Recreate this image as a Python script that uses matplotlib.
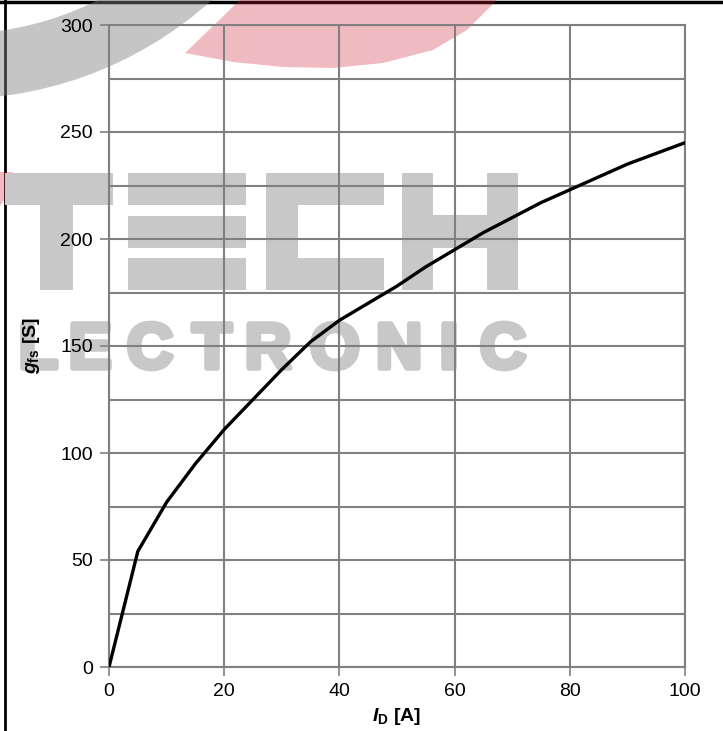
import numpy as np
import matplotlib
matplotlib.use("Agg")
from matplotlib import pyplot as plt
from matplotlib import patheffects
from matplotlib.ticker import MultipleLocator
from matplotlib.patches import Rectangle, Polygon, Wedge

# gfs vs ID curve
id_a = [0, 5, 10, 15, 20, 25, 30, 35, 40, 45, 50, 55, 60, 65, 70, 75, 80, 85, 90, 95, 100]
gfs_s = [0, 54, 77, 95, 111, 125, 139, 152, 162, 170, 178, 187, 195, 203, 210, 217, 223, 229, 235, 240, 245]

x_ticks = [0, 20, 40, 60, 80, 100]
y_ticks = [0, 50, 100, 150, 200, 250, 300]

plt.rcParams['font.family'] = ['Liberation Sans', 'DejaVu Sans']
plt.rcParams['mathtext.fontset'] = 'custom'
plt.rcParams['mathtext.it'] = 'Liberation Sans:italic:bold'
plt.rcParams['mathtext.rm'] = 'Liberation Sans:bold'
plt.rcParams['mathtext.bf'] = 'Liberation Sans:bold'

W, H = 723, 731
fig = plt.figure(figsize=(W / 100, H / 100), dpi=100)

# background layer in pixel coords (y down) for frame + watermark
bg = fig.add_axes([0, 0, 1, 1], zorder=0)
bg.set_xlim(0, W)
bg.set_ylim(H, 0)
bg.axis('off')

wm_gray = '#c8c8c8'
red = (0.80, 0.12, 0.20, 0.30)

# frame lines top / left
bg.plot([0, W], [1.5, 1.5], color='black', lw=2.5, zorder=1)
bg.plot([4.5, 4.5], [0, H], color='black', lw=2, zorder=1)

# logo arcs
bg.add_patch(Wedge((-45, -284), 383, 0, 180, width=65, color=(0.5, 0.5, 0.5, 0.45), lw=0, zorder=2))
red_pts = [(185, 53), (233, 62), (283, 67), (333, 68), (383, 63), (433, 50),
           (467, 30), (497, 0), (240, 0)]
bg.add_patch(Polygon(red_pts, closed=True, color=red, lw=0, zorder=2))
bg.add_patch(Polygon([(0, 172), (13, 172), (4, 200), (0, 206)], closed=True, color=red, lw=0, zorder=2))

# "TECH" block letters
def block(x0, y0, x1, y1):
    bg.add_patch(Rectangle((x0, y0), x1 - x0, y1 - y0, color=wm_gray, lw=0, zorder=2))

block(5, 173, 113, 205)      # T
block(40, 173, 73, 290)
block(128, 173, 246, 205)    # E
block(128, 216, 246, 248)
block(128, 258, 246, 290)
block(266, 173, 384, 205)    # C
block(266, 173, 298, 290)
block(266, 258, 384, 290)
block(402, 173, 433, 290)    # H
block(487, 173, 518, 290)
block(433, 215, 487, 248)

thick = [patheffects.withStroke(linewidth=4, foreground=wm_gray)]
for ch, cx in zip("LECTRONIC", [38, 90, 150, 212, 268, 335, 399, 449, 503]):
    bg.text(cx, 351, ch, fontsize=46, fontweight='bold', color=wm_gray,
            ha='center', va='center', zorder=2, path_effects=thick)

# main chart
ax = fig.add_axes([109 / W, 1 - 667 / H, 576 / W, 642 / H], zorder=1)
ax.set_facecolor('none')
ax.plot(id_a, gfs_s, color='black', lw=2.4, zorder=5)

ax.set_xlim(0, 100)
ax.set_ylim(0, 300)
ax.set_xticks(x_ticks)
ax.set_yticks(y_ticks)
ax.yaxis.set_minor_locator(MultipleLocator(25))
ax.grid(which='both', color='#808080', lw=1.5)
ax.tick_params(which='major', length=6.5, width=1.2, color='#808080', labelsize=14)
ax.tick_params(axis='y', pad=5)
ax.tick_params(axis='x', pad=5)
ax.tick_params(which='minor', length=0)
for s in ax.spines.values():
    s.set_color('#808080')
    s.set_linewidth(1.5)

ax.set_xlabel(r'$\mathit{I}_\mathrm{D}$ [A]', fontsize=14, fontweight='bold', labelpad=4)
ax.set_ylabel(r'$\mathit{g}_\mathrm{fs}$ [S]', fontsize=14, fontweight='bold', labelpad=13)

fig.savefig('out.png', dpi=100)
